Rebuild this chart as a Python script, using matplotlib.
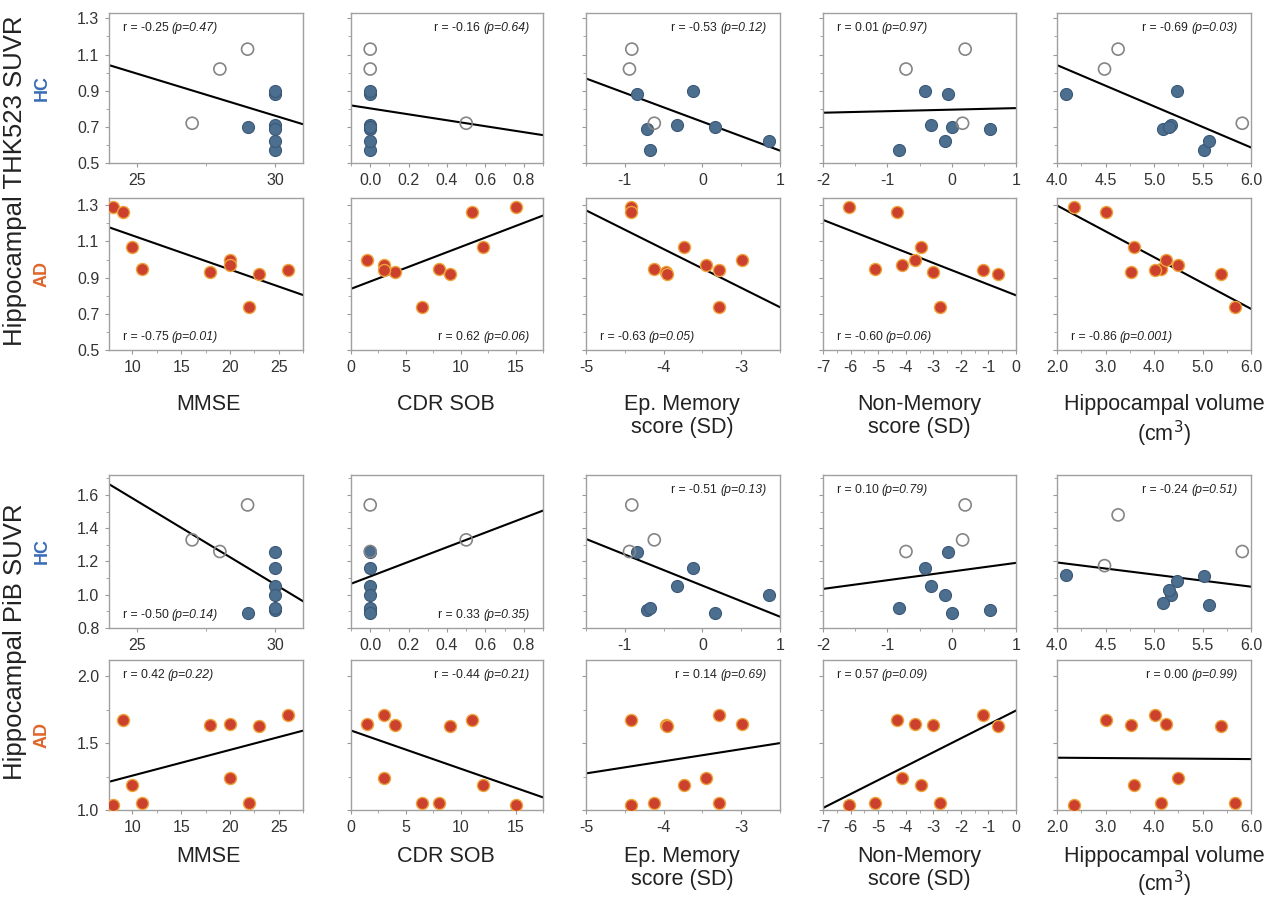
import numpy as np
import matplotlib.pyplot as plt
from matplotlib.ticker import AutoMinorLocator

plt.rcParams['font.family'] = ['Liberation Sans', 'DejaVu Sans']

# ---- healthy controls (10 subjects; last 3 drawn as open circles) ----
hc_open   = [False, False, False, False, False, False, False, True, True, True]
hc_mmse   = [30, 30, 30, 30, 30, 29, 30, 29, 28, 27]
hc_cdr    = [0, 0, 0, 0, 0, 0, 0, 0, 0, 0.5]
hc_epmem  = [-0.84, -0.12, -0.33, -0.71, -0.67, 0.16, 0.86, -0.91, -0.94, -0.62]
hc_nonmem = [-0.05, -0.41, -0.32, 0.60, -0.82, 0.01, -0.10, 0.21, -0.71, 0.17]
hc_vol    = [4.09, 5.24, 5.18, 5.09, 5.52, 5.15, 5.57, 4.63, 4.49, 5.91]
hc_thk    = [0.88, 0.90, 0.71, 0.69, 0.57, 0.70, 0.62, 1.13, 1.02, 0.72]
hc_pib    = [1.26, 1.16, 1.05, 0.91, 0.92, 0.89, 1.00, 1.54, 1.26, 1.33]
hc_pib_vol = [1.12, 1.085, 1.00, 0.95, 1.11, 1.03, 0.94, 1.48, 1.175, 1.26]

# ---- Alzheimer's disease (10 subjects) ----
ad_mmse   = [8, 9, 10, 11, 18, 20, 20, 22, 23, 26]
ad_cdr    = [15, 11, 12, 8, 4, 1.5, 3, 6.5, 9, 3]
ad_epmem  = [-4.42, -4.42, -3.74, -4.12, -3.97, -2.99, -3.45, -3.28, -3.95, -3.29]
ad_nonmem = [-6.07, -4.33, -3.46, -5.13, -3.01, -3.66, -4.12, -2.75, -0.67, -1.19]
ad_vol    = [2.35, 3.01, 3.58, 4.14, 3.53, 4.24, 4.50, 5.67, 5.39, 4.02]
ad_thk    = [1.29, 1.26, 1.07, 0.95, 0.93, 1.00, 0.97, 0.74, 0.92, 0.94]
ad_pib    = [1.04, 1.67, 1.19, 1.05, 1.635, 1.64, 1.24, 1.05, 1.627, 1.71]

# r / p labels per row (r, p, corner)
stats_hc_thk = [("-0.25", "0.47", "tl"), ("-0.16", "0.64", "tr"), ("-0.53", "0.12", "tr"),
                ("0.01", "0.97", "tl"), ("-0.69", "0.03", "tr")]
stats_ad_thk = [("-0.75", "0.01", "bl"), ("0.62", "0.06", "br"), ("-0.63", "0.05", "bl"),
                ("-0.60", "0.06", "bl"), ("-0.86", "0.001", "bl")]
stats_hc_pib = [("-0.50", "0.14", "bl"), ("0.33", "0.35", "br"), ("-0.51", "0.13", "tr"),
                ("0.10", "0.79", "tl"), ("-0.24", "0.51", "tr")]
stats_ad_pib = [("0.42", "0.22", "tl"), ("-0.44", "0.21", "tr"), ("0.14", "0.69", "tr"),
                ("0.57", "0.09", "tl"), ("0.00", "0.99", "tr")]

x_labels = ["MMSE", "CDR SOB", "Ep. Memory\nscore (SD)", "Non-Memory\nscore (SD)",
            "Hippocampal volume\n(cm$^3$)"]

hc_xlims = [(24, 31), (-0.1, 0.9), (-1.5, 1), (-2, 1), (4, 6)]
hc_xticks = [[25, 30], [0, 0.2, 0.4, 0.6, 0.8], [-1, 0, 1], [-2, -1, 0, 1], [4, 4.5, 5, 5.5, 6]]
hc_xticklabels = [["25", "30"], ["0.0", "0.2", "0.4", "0.6", "0.8"], ["-1", "0", "1"],
                  ["-2", "-1", "0", "1"], ["4.0", "4.5", "5.0", "5.5", "6.0"]]
ad_xlims = [(7.6, 27.5), (0, 17.5), (-5, -2.5), (-7, 0), (2, 6)]
ad_xticks = [[10, 15, 20, 25], [0, 5, 10, 15], [-5, -4, -3], [-7, -6, -5, -4, -3, -2, -1, 0],
             [2, 3, 4, 5, 6]]
ad_xticklabels = [["10", "15", "20", "25"], ["0", "5", "10", "15"], ["-5", "-4", "-3"],
                  ["-7", "-6", "-5", "-4", "-3", "-2", "-1", "0"],
                  ["2.0", "3.0", "4.0", "5.0", "6.0"]]

W, H = 1280, 902
fig = plt.figure(figsize=(12.8, 9.02), dpi=100)
col_px = [(109, 303), (351, 543), (586, 780), (823, 1016), (1057, 1251)]
row_px = [(13, 163), (198, 350), (475, 628), (660, 810)]

HC_FACE, HC_EDGE = "#4d6f8f", "#3b5877"
AD_FACE, AD_EDGE = "#cc412e", "#efa43a"


def stat_text(ax, r, p, loc):
    y = 0.9 if loc[0] == "t" else 0.085
    if loc[1] == "l":
        t = ax.text(0.07, y, f"r = {r} ", transform=ax.transAxes, fontsize=8.8,
                    va="center", ha="left", color="#222222")
        ax.annotate(f"(p={p})", xy=(1, 0), xycoords=t, va="bottom", ha="left",
                    fontsize=8.8, style="italic", color="#222222")
    else:
        t = ax.text(0.93, y, f"(p={p})", transform=ax.transAxes, fontsize=8.8,
                    va="center", ha="right", style="italic", color="#222222")
        ax.annotate(f"r = {r} ", xy=(0, 0), xycoords=t, va="bottom", ha="right",
                    fontsize=8.8, color="#222222")


def panel(r, c, x, y, xlim, xticks, xticklabels, ylim, yticks, stats, group):
    l, rr = col_px[c]
    t, b = row_px[r]
    ax = fig.add_axes([l / W, 1 - b / H, (rr - l) / W, (b - t) / H])
    x = np.array(x, float)
    y = np.array(y, float)
    k, d = np.polyfit(x, y, 1)
    xs = np.array(xlim)
    ax.plot(xs, k * xs + d, color="black", lw=1.5, zorder=2)
    if group == "hc":
        op = np.array(hc_open)
        ax.scatter(x[~op], y[~op], s=75, c=HC_FACE, edgecolors=HC_EDGE, linewidths=0.8, zorder=3)
        ax.scatter(x[op], y[op], s=75, facecolors="none", edgecolors="#858585", linewidths=1.2, zorder=3)
    else:
        ax.scatter(x, y, s=75, c=AD_FACE, edgecolors=AD_EDGE, linewidths=1.0, zorder=3)
    ax.set_xlim(xlim)
    ax.set_ylim(ylim)
    ax.set_xticks(xticks)
    ax.set_xticklabels(xticklabels)
    ax.set_yticks(yticks)
    if c == 0:
        ax.set_yticklabels([f"{v:.1f}" for v in yticks])
    else:
        ax.set_yticklabels([])
    ax.xaxis.set_minor_locator(AutoMinorLocator(2))
    ax.yaxis.set_minor_locator(AutoMinorLocator(2))
    ax.tick_params(which="both", direction="out", color="#999999", labelsize=11.5,
                   labelcolor="#333333", pad=4)
    ax.tick_params(which="major", length=3)
    ax.tick_params(which="minor", length=2)
    for s in ax.spines.values():
        s.set_color("#a0a0a0")
        s.set_linewidth(1.0)
    stat_text(ax, *stats[c])
    return ax


hc_x = [hc_mmse, hc_cdr, hc_epmem, hc_nonmem, hc_vol]
ad_x = [ad_mmse, ad_cdr, ad_epmem, ad_nonmem, ad_vol]

for c in range(5):
    panel(0, c, hc_x[c], hc_thk, hc_xlims[c], hc_xticks[c], hc_xticklabels[c],
          (0.5, 1.33), [0.5, 0.7, 0.9, 1.1, 1.3], stats_hc_thk, "hc")
    panel(1, c, ad_x[c], ad_thk, ad_xlims[c], ad_xticks[c], ad_xticklabels[c],
          (0.5, 1.34), [0.5, 0.7, 0.9, 1.1, 1.3], stats_ad_thk, "ad")
    panel(2, c, hc_x[c], hc_pib_vol if c == 4 else hc_pib, hc_xlims[c], hc_xticks[c],
          hc_xticklabels[c], (0.8, 1.72), [0.8, 1.0, 1.2, 1.4, 1.6], stats_hc_pib, "hc")
    panel(3, c, ad_x[c], ad_pib, ad_xlims[c], ad_xticks[c], ad_xticklabels[c],
          (1.0, 2.12), [1.0, 1.5, 2.0], stats_ad_pib, "ad")

# x-axis titles under the AD rows
label_cx = [208, 446, 682, 919, 1164]
for c in range(5):
    fig.text(label_cx[c] / W, 1 - 394 / H, x_labels[c], ha="center", va="top",
             fontsize=15.5, color="#222222", linespacing=1.15)
    fig.text(label_cx[c] / W, 1 - 846 / H, x_labels[c], ha="center", va="top",
             fontsize=15.5, color="#222222", linespacing=1.1)

# row titles
fig.text(15 / W, 1 - 181 / H, "Hippocampal THK523 SUVR", rotation=90, ha="center",
         va="center", fontsize=18.5, color="#222222")
fig.text(15 / W, 1 - 642 / H, "Hippocampal PiB SUVR", rotation=90, ha="center",
         va="center", fontsize=18.5, color="#222222")
for (t, b), name in zip(row_px, ["HC", "AD", "HC", "AD"]):
    fig.text(42 / W, 1 - (t + b) / 2 / H, name, rotation=90, ha="center", va="center",
             fontsize=13, fontweight="bold",
             color="#3a6db5" if name == "HC" else "#e0652b")

fig.savefig("out.png", dpi=100)
